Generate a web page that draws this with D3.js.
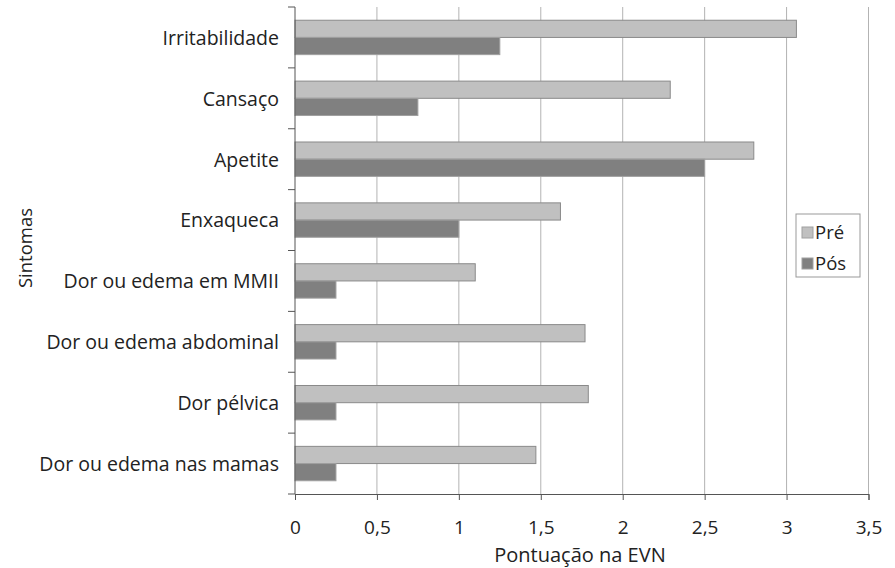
<!DOCTYPE html>
<html>
<head>
<meta charset="utf-8">
<script src="https://cdn.jsdelivr.net/npm/d3@7"></script>
<style>
  body { margin: 0; background: #fff; }
  text { font-family: "Open Sans", sans-serif; fill: #222; }
</style>
</head>
<body>
<svg id="chart" width="895" height="568"></svg>
<script>
// symptoms (top to bottom) and the two series
var sintomas = ["Irritabilidade", "Cansaço", "Apetite", "Enxaqueca",
                "Dor ou edema em MMII", "Dor ou edema abdominal",
                "Dor pélvica", "Dor ou edema nas mamas"]
var pre = [3.06, 2.29, 2.8, 1.62, 1.1, 1.77, 1.79, 1.47]
var pos = [1.25, 0.75, 2.5, 1.0, 0.25, 0.25, 0.25, 0.25]
var seriesNames = ["Pré", "Pós"]
var xTicks = [0, 0.5, 1, 1.5, 2, 2.5, 3, 3.5]

const svg = d3.select("#chart")
const plotLeft = 295, plotRight = 868.5, plotTop = 7, plotBottom = 494

// scales
const x = d3.scaleLinear().domain([0, 3.5]).range([plotLeft, plotRight])
const y = d3.scaleBand().domain(sintomas).range([plotTop, plotBottom]).paddingInner(0.435).paddingOuter(0.2175)
const sub = d3.scaleBand().domain(seriesNames).range([0, y.bandwidth()])
const color = d3.scaleOrdinal().domain(seriesNames).range(["#c0c0c0", "#808080"])

// vertical gridlines
svg.append("g")
  .selectAll("line")
  .data(xTicks.slice(1))
  .enter().append("line")
  .attr("x1", d => x(d)).attr("x2", d => x(d))
  .attr("y1", plotTop).attr("y2", plotBottom)
  .attr("stroke", "#b3b3b3")
  .attr("stroke-width", 1)

// bars
const rows = sintomas.map((s, i) => ({ s: s, values: [pre[i], pos[i]] }))
const groups = svg.append("g")
  .selectAll("g")
  .data(rows)
  .enter().append("g")
  .attr("transform", d => `translate(0,${y(d.s)})`)

groups.selectAll("rect")
  .data(d => d.values.map((v, j) => ({ k: seriesNames[j], v: v })))
  .enter().append("rect")
  .attr("x", x(0))
  .attr("y", d => sub(d.k))
  .attr("width", d => x(d.v) - x(0))
  .attr("height", sub.bandwidth())
  .attr("fill", d => color(d.k))
  .attr("stroke", d => d.k == "Pré" ? "#8a8a8a" : "#a0a0a0")
  .attr("stroke-width", 1)

// x axis
const xAxis = svg.append("g")
  .attr("transform", `translate(0,${plotBottom})`)
  .call(d3.axisBottom(x).tickValues(xTicks).tickSize(6).tickPadding(21)
        .tickFormat(d => String(d).replace(".", ",")))
xAxis.select(".domain").attr("stroke", "#555")
xAxis.selectAll(".tick line").attr("stroke", "#555")
xAxis.selectAll("text").attr("font-size", 19).attr("font-family", "Open Sans, sans-serif").attr("fill", "#222")

// y axis: ticks on band boundaries, labels centred on bands
const bounds = d3.range(sintomas.length + 1).map(i => plotTop + i * (plotBottom - plotTop) / sintomas.length)
svg.append("line")
  .attr("x1", plotLeft).attr("x2", plotLeft).attr("y1", plotTop).attr("y2", plotBottom)
  .attr("stroke", "#555")
svg.append("g").selectAll("line")
  .data(bounds).enter().append("line")
  .attr("x1", plotLeft - 7).attr("x2", plotLeft)
  .attr("y1", d => d).attr("y2", d => d)
  .attr("stroke", "#555")
svg.append("g").selectAll("text")
  .data(sintomas).enter().append("text")
  .attr("x", plotLeft - 16)
  .attr("y", d => y(d) + y.bandwidth() / 2)
  .attr("dy", "0.38em")
  .attr("text-anchor", "end")
  .attr("font-size", 19.5)
  .text(d => d)

// axis titles
svg.append("text")
  .attr("x", 580)
  .attr("y", 562)
  .attr("text-anchor", "middle")
  .attr("font-size", 20)
  .text("Pontuação na EVN")
svg.append("text")
  .attr("transform", "translate(32,248) rotate(-90)")
  .attr("text-anchor", "middle")
  .attr("font-size", 18.5)
  .text("Sintomas")

// legend
const lg = svg.append("g").attr("transform", "translate(796,214)")
lg.append("rect").attr("width", 64).attr("height", 63)
  .attr("fill", "#fff").attr("stroke", "#999")
seriesNames.forEach((n, i) => {
  lg.append("rect")
    .attr("x", 6).attr("y", 13 + i * 31)
    .attr("width", 11).attr("height", 11)
    .attr("fill", color(n)).attr("stroke", "#a0a0a0")
  lg.append("text")
    .attr("x", 19).attr("y", 24.5 + i * 31)
    .attr("font-size", 18.5)
    .text(n)
})
</script>
</body>
</html>
